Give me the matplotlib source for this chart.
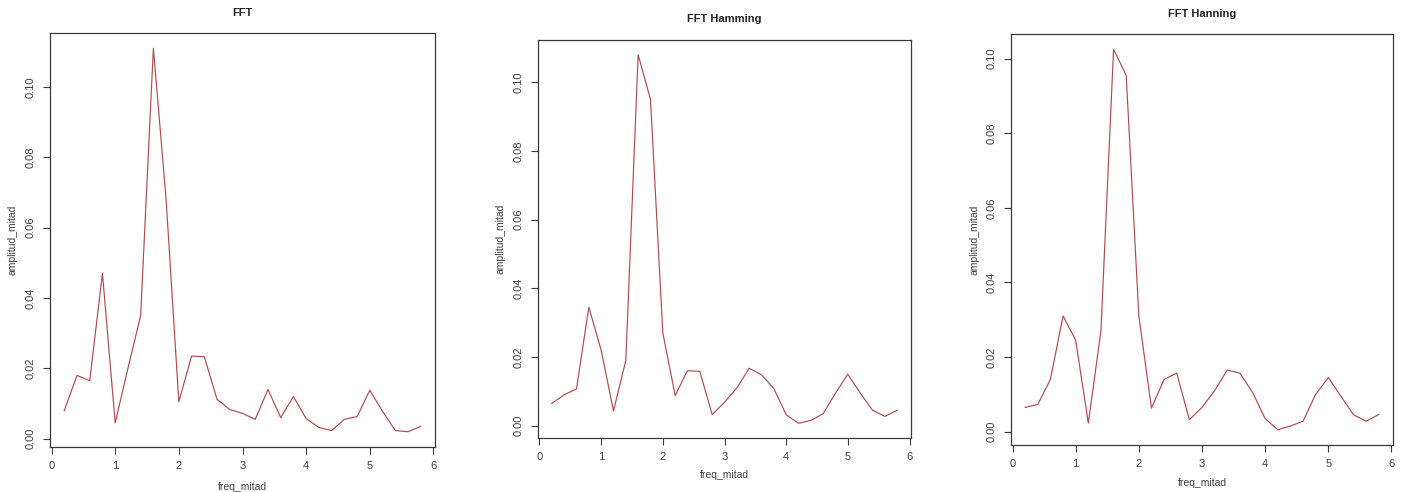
import matplotlib
matplotlib.use("Agg")
import matplotlib.pyplot as plt
import numpy as np

plt.rcParams['font.family'] = ['Liberation Sans', 'DejaVu Sans']

freq_mitad = [0.2, 0.4, 0.6, 0.8, 1.0, 1.2, 1.4, 1.6, 1.8, 2.0, 2.2, 2.4, 2.6, 2.8, 3.0,
              3.2, 3.4, 3.6, 3.8, 4.0, 4.2, 4.4, 4.6, 4.8, 5.0, 5.2, 5.4, 5.6, 5.8]

amp_fft = [0.0080, 0.0180, 0.0165, 0.0470, 0.0045, 0.0200, 0.0350, 0.1110, 0.0680, 0.0105,
           0.0235, 0.0233, 0.0112, 0.0083, 0.0072, 0.0055, 0.0140, 0.0060, 0.0120, 0.0057,
           0.0032, 0.0023, 0.0055, 0.0063, 0.0138, 0.0078, 0.0023, 0.0020, 0.0035]

amp_hamming = [0.0065, 0.0090, 0.0107, 0.0345, 0.0220, 0.0043, 0.0190, 0.1080, 0.0950, 0.0270,
               0.0088, 0.0160, 0.0158, 0.0032, 0.0068, 0.0110, 0.0167, 0.0148, 0.0108, 0.0032,
               0.0007, 0.0015, 0.0035, 0.0095, 0.0150, 0.0095, 0.0045, 0.0027, 0.0045]

amp_hanning = [0.0065, 0.0073, 0.0140, 0.0310, 0.0245, 0.0023, 0.0270, 0.1025, 0.0955, 0.0310,
               0.0063, 0.0140, 0.0157, 0.0032, 0.0065, 0.0110, 0.0165, 0.0157, 0.0105, 0.0035,
               0.0005, 0.0015, 0.0028, 0.0100, 0.0145, 0.0095, 0.0045, 0.0028, 0.0046]

titles = ["FFT", "FFT Hamming", "FFT Hanning"]
series = [amp_fft, amp_hamming, amp_hanning]
xticks = [0, 1, 2, 3, 4, 5, 6]
yticks = [0.00, 0.02, 0.04, 0.06, 0.08, 0.10]
ytick_labels = ["0.00", "0.02", "0.04", "0.06", "0.08", "0.10"]

W, H = 1403, 492
fig = plt.figure(figsize=(W / 100, H / 100), dpi=100)

# axes boxes in pixels: left, top, right, bottom
boxes = [(50, 33, 435, 447), (538, 40, 911, 438), (1011, 34, 1393, 445)]
title_y = [13, 19, 14]
xlabel_y = [487, 475, 483]

line_color = "#b04a4e"
spine_color = "#3a3a3a"
text_color = "#404040"

def r_range(v):
    lo, hi = min(v), max(v)
    ext = 0.04 * (hi - lo)
    return lo - ext, hi + ext

for i, (amp, title, box) in enumerate(zip(series, titles, boxes)):
    l, t, r, b = box
    ax = fig.add_axes([l / W, 1 - b / H, (r - l) / W, (b - t) / H])
    ax.plot(freq_mitad, amp, color=line_color, lw=0.85)
    ax.set_xlim(*r_range(freq_mitad))
    ax.set_ylim(*r_range(amp))
    ax.set_xticks(xticks)
    ax.set_xticklabels([str(x) for x in xticks], fontsize=8, color=text_color)
    ax.set_yticks(yticks)
    ax.set_yticklabels(ytick_labels, fontsize=8, color=text_color, rotation=90, va="center")
    ax.tick_params(axis="both", length=5, width=0.8, color=spine_color, direction="out", pad=5)
    for s in ax.spines.values():
        s.set_color(spine_color)
        s.set_linewidth(0.9)
    cx = (l + r) / 2 / W
    fig.text(cx, 1 - title_y[i] / H, title, ha="center", va="center",
             fontsize=8, fontweight="bold", color="#222222")
    fig.text(cx, 1 - xlabel_y[i] / H, "freq_mitad", ha="center", va="center",
             fontsize=7.5, color=text_color)
    fig.text((l - 37) / W, 1 - ((t + b) / 2) / H, "amplitud_mitad", ha="center", va="center",
             rotation=90, fontsize=7.5, color=text_color)

fig.savefig("out.png", dpi=100, facecolor="white")
